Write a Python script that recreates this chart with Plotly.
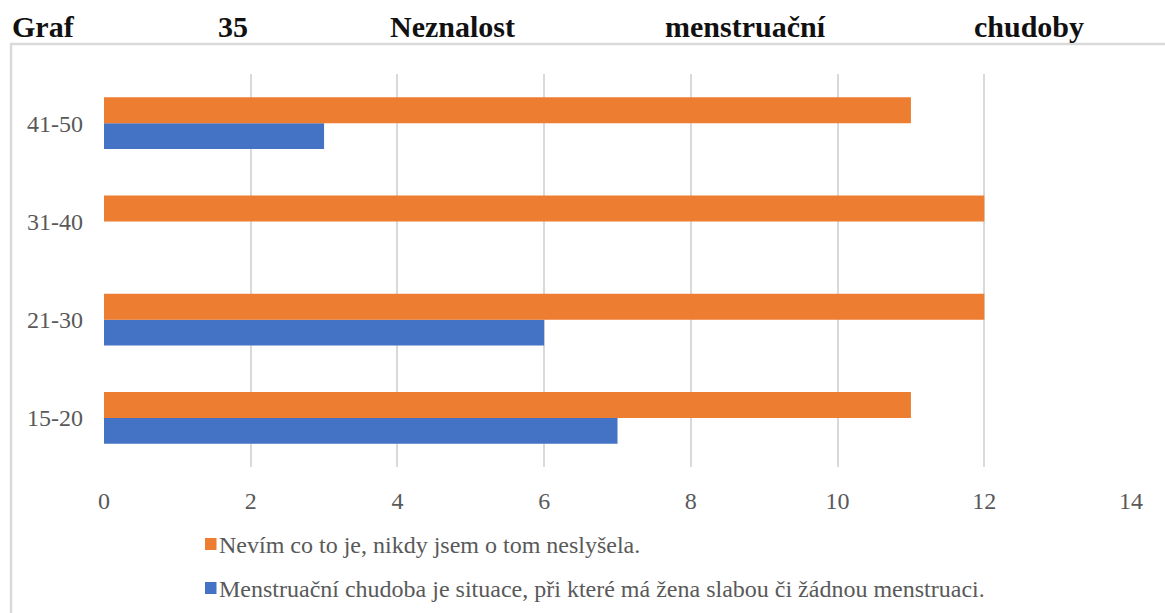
import plotly.graph_objects as go

# Age groups and counts of respondents per answer
age_groups = ["15-20", "21-30", "31-40", "41-50"]
dont_know = [11, 12, 12, 11]
wrong_answer = [7, 6, 0, 3]

label_dont_know = "Nevím co to je, nikdy jsem o tom neslyšela."
label_wrong = "Menstruační chudoba je situace, při které má žena slabou či žádnou menstruaci."

title_words = ["Graf", "35", "Neznalost", "menstruační", "chudoby"]
title_word_x = [10, 216, 388, 663, 972]

W, H = 1165, 613
L, R, T, B = 104, 34, 74, 146
plot_w = W - L - R
plot_h = H - T - B

serif = "Liberation Serif, Times New Roman, serif"
grey_text = "#595959"
grid = "#d9d9d9"
orange = "#ED7D31"
blue = "#4472C4"

fig = go.Figure()
fig.add_trace(go.Bar(
    y=age_groups, x=wrong_answer, orientation="h", name=label_wrong,
    marker=dict(color=blue, line=dict(width=0)), showlegend=False,
))
fig.add_trace(go.Bar(
    y=age_groups, x=dont_know, orientation="h", name=label_dont_know,
    marker=dict(color=orange, line=dict(width=0)), showlegend=False,
))


def px_to_paper_x(px):
    return (px - L) / plot_w


def px_to_paper_y(py):
    return (H - B - py) / plot_h


# Outer chart frame
fig.add_shape(
    type="rect", xref="paper", yref="paper",
    x0=px_to_paper_x(11), x1=px_to_paper_x(1185),
    y0=px_to_paper_y(640), y1=px_to_paper_y(44),
    line=dict(color=grid, width=2.5), fillcolor="rgba(0,0,0,0)", layer="below",
)

# Justified title line
for word, wx in zip(title_words, title_word_x):
    fig.add_annotation(
        text="<b>%s</b>" % word, xref="paper", yref="paper",
        x=px_to_paper_x(wx), y=px_to_paper_y(27),
        xanchor="left", yanchor="middle", showarrow=False,
        font=dict(family=serif, size=30, color="#111111"),
    )

# Legend entries (orange first, then blue)
legend_items = [(label_dont_know, orange, 544), (label_wrong, blue, 588)]
for text, color, cy in legend_items:
    fig.add_shape(
        type="rect", xref="paper", yref="paper",
        x0=px_to_paper_x(205), x1=px_to_paper_x(216.5),
        y0=px_to_paper_y(cy + 6), y1=px_to_paper_y(cy - 6),
        line=dict(width=0), fillcolor=color,
    )
    fig.add_annotation(
        text=text, xref="paper", yref="paper",
        x=px_to_paper_x(217), y=px_to_paper_y(cy + 1),
        xanchor="left", yanchor="middle", showarrow=False,
        font=dict(family=serif, size=24, color=grey_text),
    )

fig.update_layout(
    width=W, height=H,
    margin=dict(l=L, r=R, t=T, b=B, pad=0),
    paper_bgcolor="white", plot_bgcolor="white",
    barmode="group", bargap=0.475, bargroupgap=0,
    showlegend=False,
    xaxis=dict(
        range=[0, 14], dtick=2, showgrid=True, gridcolor=grid, gridwidth=2,
        zeroline=False, showline=False, ticks="",
        tickfont=dict(family=serif, size=24, color=grey_text),
        ticklabelstandoff=17,
    ),
    yaxis=dict(
        showgrid=False, zeroline=False, showline=False, ticks="",
        tickfont=dict(family=serif, size=24, color=grey_text),
        ticklabelstandoff=20,
    ),
)

fig.write_html("out.html")
